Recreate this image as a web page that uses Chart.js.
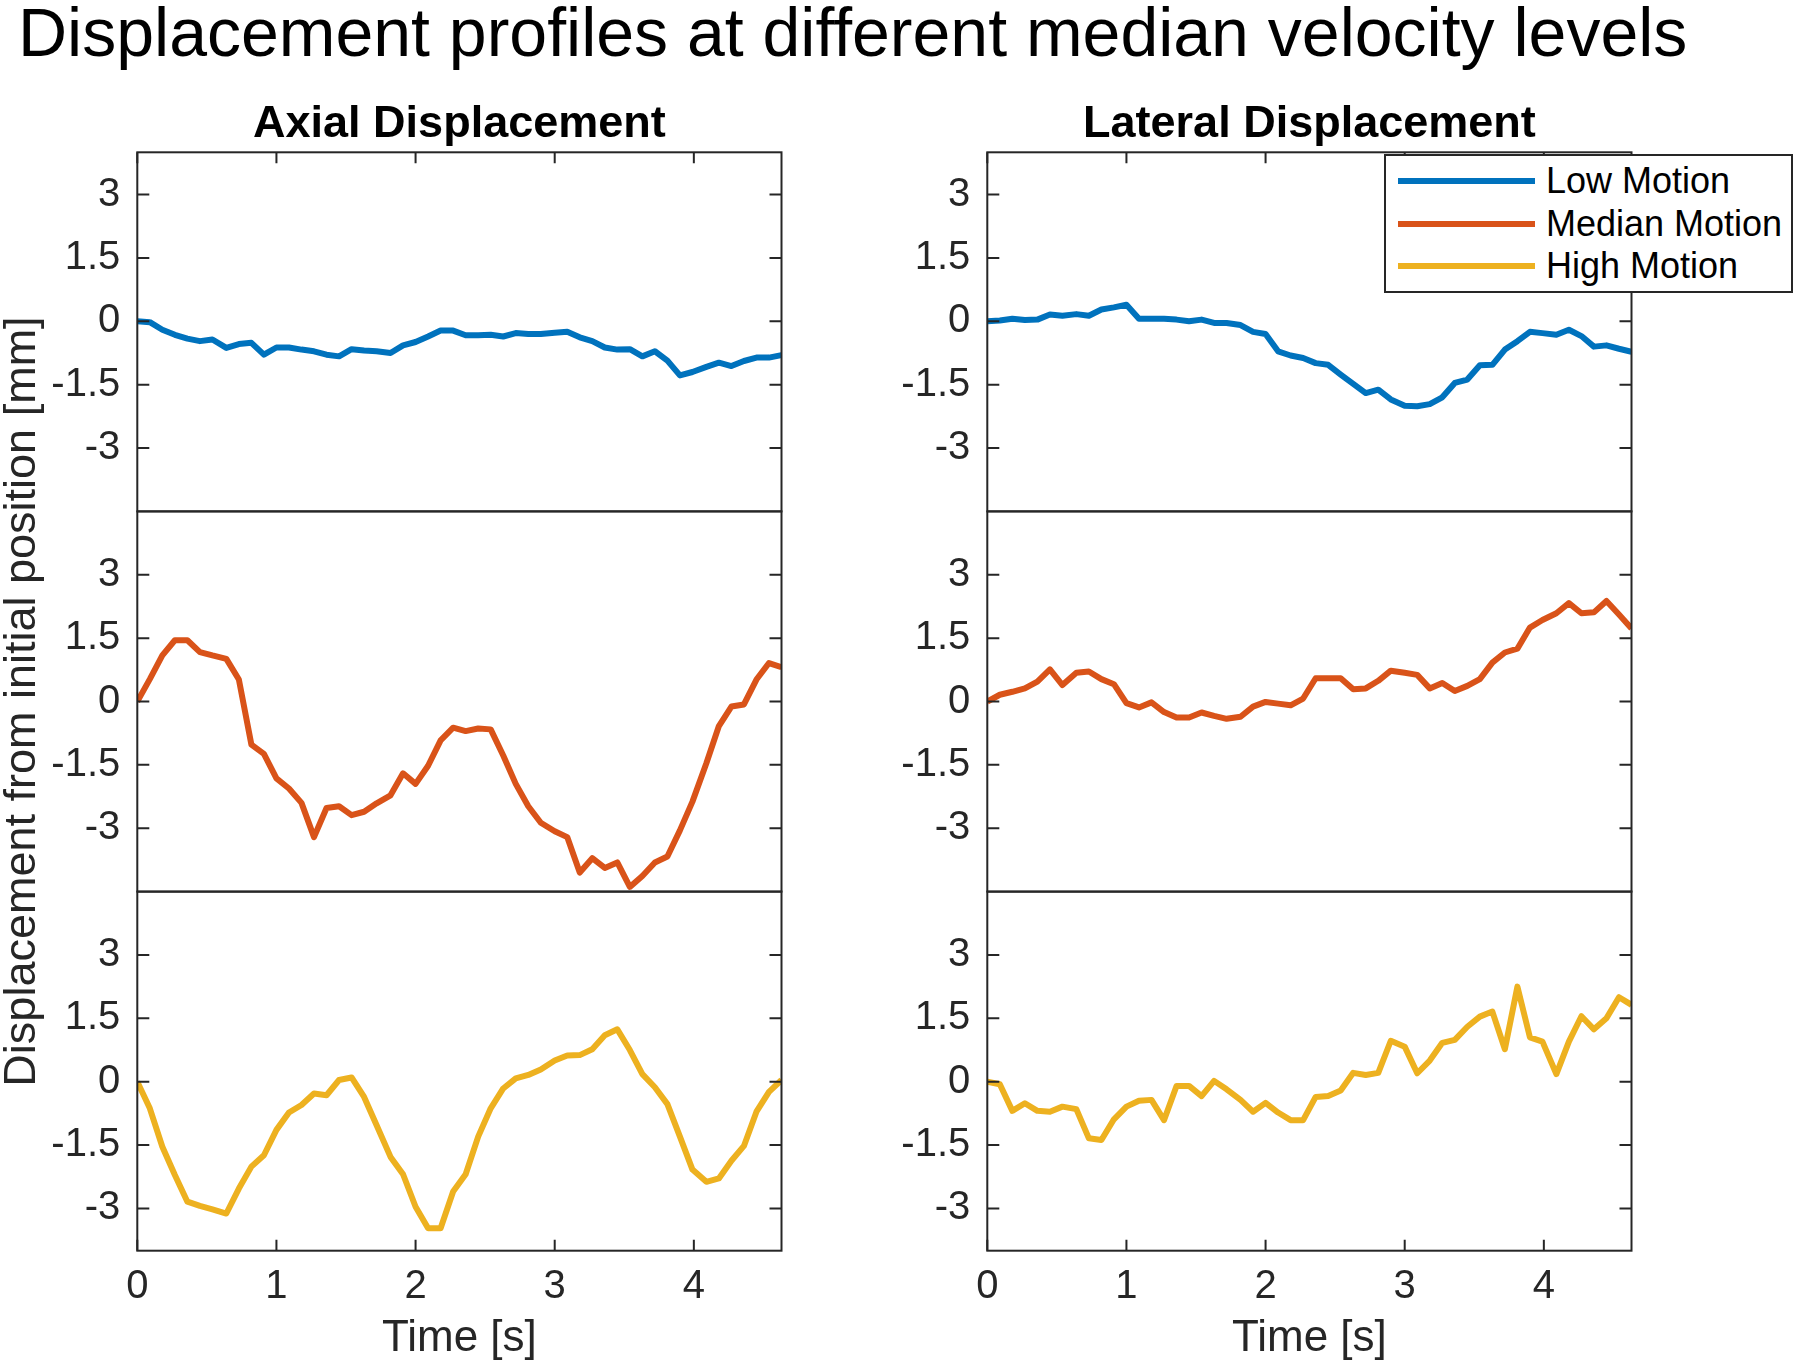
<!DOCTYPE html>
<html lang="en">
<head>
<meta charset="UTF-8">
<title>Displacement profiles at different median velocity levels</title>
<script src="https://cdn.jsdelivr.net/npm/chart.js@4.4.1/dist/chart.umd.min.js"></script>
<style>
  html, body { margin: 0; padding: 0; background: #fff; }
  body { width: 1800px; height: 1368px; position: relative; overflow: hidden; font-family: 'Liberation Sans', Arial, sans-serif; }
  canvas { position: absolute; top: 0; }
  #suptitle { position: absolute; left: 18px; top: -2px; font-size: 68px; line-height: 1; white-space: nowrap; color: #000; }
  #legend { position: absolute; left: 1384px; top: 154px; width: 409px; height: 139px; box-sizing: border-box; border: 2px solid #262626; background: #fff; padding-top: 4px; z-index: 5; }
  .row { height: 42.5px; display: flex; align-items: center; font-size: 36px; color: #000; white-space: nowrap; }
  .swatch { flex: 0 0 137px; height: 6px; margin-left: 12px; margin-right: 11px; }
</style>
</head>
<body>
<div id="suptitle">Displacement profiles at different median velocity levels</div>
<div id="legend"></div>
<script>
// data (52 samples, ~11 Hz)
const TIME = [0.00, 0.09, 0.18, 0.27, 0.36, 0.45, 0.54, 0.64, 0.73, 0.82,
              0.91, 1.00, 1.09, 1.18, 1.27, 1.36, 1.45, 1.54, 1.63, 1.72,
              1.82, 1.91, 2.00, 2.09, 2.18, 2.27, 2.36, 2.45, 2.54, 2.63,
              2.72, 2.81, 2.90, 3.00, 3.09, 3.18, 3.27, 3.36, 3.45, 3.54,
              3.63, 3.72, 3.81, 3.90, 3.99, 4.09, 4.18, 4.27, 4.36, 4.45,
              4.54, 4.63];
const X_TICKS = [0, 1, 2, 3, 4];
const Y_TICKS = [-3, -1.5, 0, 1.5, 3];
const SERIES_NAMES = ['Low Motion', 'Median Motion', 'High Motion'];
const COLUMN_TITLES = ['Axial Displacement', 'Lateral Displacement'];

const AXIAL_LOW = [0, -0.02, -0.20, -0.32, -0.41, -0.47, -0.43, -0.63, -0.54, -0.51,
  -0.79, -0.62, -0.62, -0.67, -0.71, -0.79, -0.83, -0.66, -0.69, -0.71,
  -0.75, -0.57, -0.49, -0.36, -0.22, -0.22, -0.33, -0.33, -0.32, -0.36,
  -0.28, -0.30, -0.30, -0.27, -0.25, -0.38, -0.47, -0.62, -0.67, -0.66,
  -0.83, -0.71, -0.93, -1.28, -1.20, -1.08, -0.98, -1.06, -0.94, -0.86,
  -0.86, -0.80];
const AXIAL_MEDIAN = [0, 0.53, 1.09, 1.45, 1.45, 1.17, 1.09, 1.01, 0.52, -1.02,
  -1.24, -1.82, -2.06, -2.40, -3.21, -2.52, -2.48, -2.69, -2.61, -2.41,
  -2.22, -1.70, -1.95, -1.52, -0.92, -0.62, -0.70, -0.64, -0.66, -1.28,
  -1.95, -2.48, -2.87, -3.07, -3.21, -4.05, -3.71, -3.94, -3.81, -4.39,
  -4.13, -3.81, -3.67, -3.05, -2.37, -1.46, -0.58, -0.12, -0.07, 0.52,
  0.91, 0.81];
const AXIAL_HIGH = [0, -0.63, -1.54, -2.21, -2.84, -2.94, -3.02, -3.12, -2.53, -2.01,
  -1.74, -1.14, -0.73, -0.55, -0.28, -0.32, 0.04, 0.10, -0.36, -1.03,
  -1.78, -2.19, -2.96, -3.47, -3.47, -2.60, -2.19, -1.30, -0.63, -0.16,
  0.08, 0.16, 0.29, 0.50, 0.62, 0.63, 0.77, 1.10, 1.24, 0.75,
  0.18, -0.13, -0.53, -1.30, -2.08, -2.37, -2.29, -1.87, -1.52, -0.71,
  -0.24, 0.04];
const LATERAL_LOW = [0, 0.02, 0.06, 0.03, 0.04, 0.16, 0.13, 0.17, 0.13, 0.28,
  0.33, 0.39, 0.06, 0.06, 0.06, 0.04, 0, 0.04, -0.04, -0.04,
  -0.09, -0.25, -0.30, -0.71, -0.81, -0.87, -0.99, -1.03, -1.26, -1.48,
  -1.70, -1.62, -1.85, -2.00, -2.01, -1.96, -1.80, -1.46, -1.38, -1.04,
  -1.03, -0.67, -0.47, -0.25, -0.28, -0.32, -0.20, -0.35, -0.60, -0.57,
  -0.65, -0.72];
const LATERAL_MEDIAN = [0, 0.16, 0.23, 0.31, 0.47, 0.76, 0.39, 0.68, 0.71, 0.53,
  0.41, -0.04, -0.14, -0.02, -0.25, -0.38, -0.38, -0.26, -0.34, -0.41,
  -0.36, -0.12, -0.01, -0.05, -0.09, 0.07, 0.55, 0.55, 0.55, 0.29,
  0.31, 0.49, 0.73, 0.68, 0.63, 0.31, 0.44, 0.25, 0.37, 0.53,
  0.92, 1.16, 1.25, 1.75, 1.93, 2.09, 2.33, 2.09, 2.11, 2.38,
  2.06, 1.73];
const LATERAL_HIGH = [0, -0.06, -0.69, -0.51, -0.69, -0.71, -0.59, -0.65, -1.34, -1.38,
  -0.89, -0.59, -0.45, -0.43, -0.91, -0.10, -0.10, -0.34, 0.02, -0.18,
  -0.43, -0.71, -0.50, -0.73, -0.91, -0.91, -0.36, -0.34, -0.21, 0.21,
  0.16, 0.21, 0.97, 0.83, 0.20, 0.50, 0.92, 0.99, 1.30, 1.54,
  1.66, 0.77, 2.25, 1.05, 0.95, 0.18, 0.95, 1.55, 1.24, 1.50,
  2.00, 1.82];

// y-limits of the three stacked panels (top, middle, bottom)
const PANEL_Y_MIN = [-4.5, -4.5, -4];
const PANEL_Y_MAX = [4, 4.5, 4.5];
const X_MAX = 4.63;

const COLORS = ['#0072BD', '#D95319', '#EDB120'];
const INK = '#262626';
const FONT = "'Liberation Sans', Arial, sans-serif";
Chart.defaults.font.family = FONT;
Chart.defaults.color = INK;

// page geometry
const PAGE_H = 1368;
const COLS = [
  { series: [AXIAL_LOW, AXIAL_MEDIAN, AXIAL_HIGH], left: 0, width: 850, plotRight: 781.5 },
  { series: [LATERAL_LOW, LATERAL_MEDIAN, LATERAL_HIGH], left: 850, width: 950, plotRight: 1631.5 }
];
const Y_AXIS_W = 137.3;
const PANEL_TOP = [152.3, 511.4, 891.6];
const PANEL_BOTTOM = [511.4, 891.6, 1250.7];

// matlab style box: frame + inward ticks
const matlabBox = {
  id: 'matlabBox',
  afterDraw(chart, args, opts) {
    const { ctx, chartArea: a } = chart;
    const xs = chart.scales.x, ys = chart.scales.y;
    ctx.save();
    ctx.strokeStyle = INK;
    ctx.lineWidth = 2;
    ctx.strokeRect(a.left, a.top, a.right - a.left, a.bottom - a.top);
    ctx.beginPath();
    Y_TICKS.forEach(v => {
      const py = ys.getPixelForValue(v);
      ctx.moveTo(a.left, py); ctx.lineTo(a.left + 12, py);
      ctx.moveTo(a.right, py); ctx.lineTo(a.right - 12, py);
    });
    X_TICKS.forEach(v => {
      const px = xs.getPixelForValue(v);
      if (opts.top) { ctx.moveTo(px, a.top); ctx.lineTo(px, a.top + 11); }
      if (opts.bottom) { ctx.moveTo(px, a.bottom); ctx.lineTo(px, a.bottom - 11); }
    });
    ctx.stroke();
    ctx.restore();
  }
};

COLS.forEach((col, c) => {
  for (let r = 0; r < 3; r++) {
    const cv = document.createElement('canvas');
    cv.width = col.width;
    cv.height = PAGE_H;
    cv.style.left = col.left + 'px';
    document.body.appendChild(cv);

    const isBottom = r === 2;
    new Chart(cv, {
      type: 'line',
      data: {
        datasets: [{
          label: SERIES_NAMES[r],
          data: TIME.map((t, i) => ({ x: t, y: col.series[r][i] })),
          borderColor: COLORS[r],
          borderWidth: 6,
          borderJoinStyle: 'round',
          pointRadius: 0,
          tension: 0,
          fill: false
        }]
      },
      options: {
        responsive: false,
        animation: false,
        devicePixelRatio: 1,
        events: [],
        layout: {
          padding: {
            left: 0,
            right: col.width - (col.plotRight - col.left),
            top: r === 0 ? 0 : PANEL_TOP[r],
            bottom: isBottom ? 0 : PAGE_H - PANEL_BOTTOM[r]
          }
        },
        scales: {
          x: {
            type: 'linear',
            min: 0, max: X_MAX,
            display: isBottom,
            afterBuildTicks: s => { s.ticks = X_TICKS.map(v => ({ value: v })); },
            afterFit: s => { if (isBottom) s.height = PAGE_H - PANEL_BOTTOM[2]; },
            grid: { display: false, drawTicks: false },
            border: { display: false },
            ticks: { font: { size: 40 }, color: INK, padding: 12, autoSkip: false, maxRotation: 0, callback: v => String(v) },
            title: { display: true, text: 'Time [s]', font: { size: 44 }, color: INK, padding: { top: 0, bottom: 3 } }
          },
          y: {
            type: 'linear',
            min: PANEL_Y_MIN[r], max: PANEL_Y_MAX[r],
            afterBuildTicks: s => { s.ticks = Y_TICKS.map(v => ({ value: v })); },
            afterFit: s => { s.width = Y_AXIS_W; },
            grid: { display: false, drawTicks: false },
            border: { display: false },
            ticks: { font: { size: 40 }, color: INK, padding: 17, autoSkip: false, callback: v => String(v) },
            title: {
              display: c === 0 && r === 1,
              text: 'Displacement from initial position [mm]',
              font: { size: 45, lineHeight: 1 },
              color: INK,
              padding: 0
            }
          }
        },
        plugins: {
          legend: { display: false },
          tooltip: { enabled: false },
          title: {
            display: r === 0,
            text: COLUMN_TITLES[c],
            fullSize: false,
            font: { size: 45, weight: 'bold' },
            color: '#000',
            padding: { top: 97.4, bottom: 0.9 }
          },
          matlabBox: { top: r === 0, bottom: isBottom }
        }
      },
      plugins: [matlabBox]
    });
  }
});

// legend box (top right, overlapping the lateral panel)
const legend = document.getElementById('legend');
SERIES_NAMES.forEach((name, k) => {
  const row = document.createElement('div');
  row.className = 'row';
  row.innerHTML = '<span class="swatch" style="background:' + COLORS[k] + '"></span>' + name;
  legend.appendChild(row);
});
</script>
</body>
</html>
